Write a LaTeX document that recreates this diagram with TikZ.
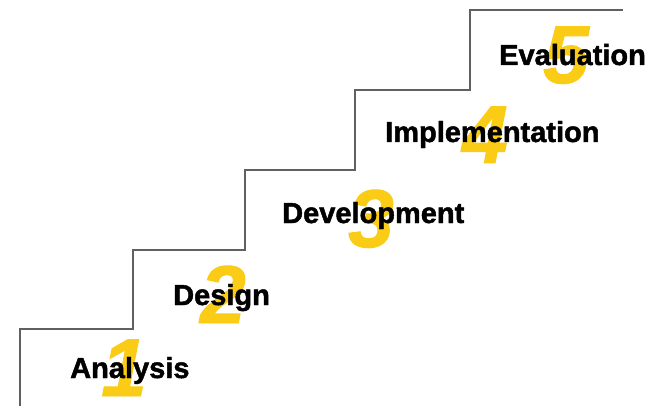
\documentclass[tikz,border=0pt]{standalone}
\usepackage{fontspec}
\setmainfont{Liberation Sans}
\newfontfamily\heavylabel[FakeBold=1.6]{Liberation Sans Bold}
\newfontfamily\heavydigit[FakeBold=1.2]{Liberation Sans Bold Italic}
\definecolor{stepgold}{RGB}{250,204,22}
\definecolor{stairgray}{RGB}{96,96,96}
\begin{document}
\begin{tikzpicture}[x=1pt,y=-1pt,
  stairline/.style={draw=stairgray,line width=1.4pt},
  stepnum/.style={anchor=base,inner sep=0pt,text=stepgold,
    font=\heavydigit\fontsize{82}{82}\selectfont},
  steplabel/.style={anchor=base west,inner sep=0pt,text=black,
    font=\heavylabel\fontsize{29}{29}\selectfont}]
  \useasboundingbox[fill=white] (0,0) rectangle (647,406);
  % staircase outline
  \begin{scope}
    \clip (0,0) rectangle (647,406);
    \draw[stairline] (20,410) -- (20,329) -- (133,329) -- (133,250)
      -- (245,250) -- (245,170) -- (355,170) -- (355,90)
      -- (470,90) -- (470,10) -- (623,10);
  \end{scope}
  % step numbers
  \node[stepnum] (n1) at (124,396) {1};
  \node[stepnum] (n2) at (223,323) {2};
  \node[stepnum] (n3) at (371,247) {3};
  \node[stepnum] (n4) at (485,163) {4};
  \node[stepnum] (n5) at (566,83) {5};
  % step names
  \node[steplabel] (l1) at (70,378) {Analysis};
  \node[steplabel] (l2) at (173,305) {Design};
  \node[steplabel] (l3) at (282,223) {Development};
  \node[steplabel] (l4) at (385,142) {Implementation};
  \node[steplabel] (l5) at (499,65) {Evaluation};
\end{tikzpicture}
\end{document}
